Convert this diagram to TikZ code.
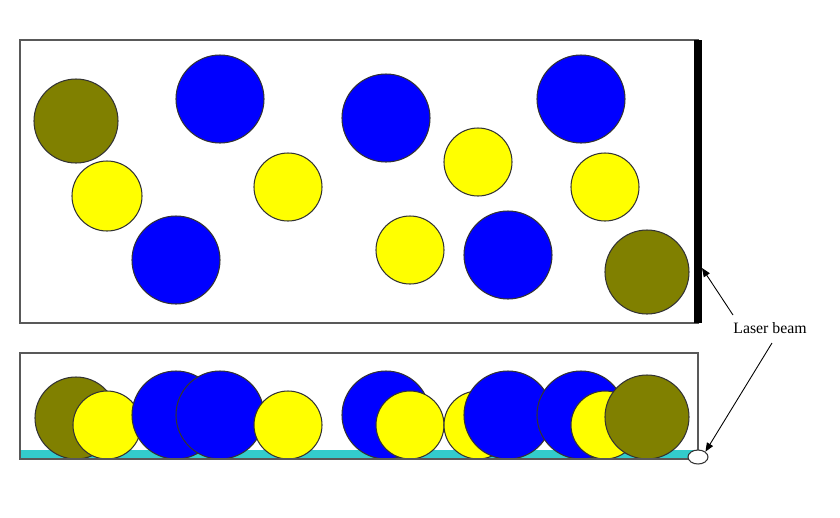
\documentclass[tikz,border=0pt]{standalone}
\usepackage{fontspec}
\setmainfont{Liberation Serif}
\usetikzlibrary{shapes.geometric,arrows.meta}

\definecolor{beadblue}{RGB}{0,0,255}
\definecolor{beadyellow}{RGB}{255,255,0}
\definecolor{beadolive}{RGB}{128,128,0}
\definecolor{floorcyan}{RGB}{51,204,204}

\tikzset{
  bead/.style={draw=black!80,line width=0.6pt},
  frame/.style={draw=black!65,line width=0.8pt},
  pointer/.style={-{Triangle[length=5pt,width=4pt]},line width=0.5pt},
}

\begin{document}
\begin{tikzpicture}[x=0.02cm,y=-0.02cm]
    \useasboundingbox (0,0) rectangle (840,518);

    % top view
    \draw[frame,fill=white] (20,40) rectangle (698,323);
    \fill[black] (694,40) rectangle (702,323);
    \foreach \cx/\cy/\r/\col in {76/121/42/beadolive,107/196/35/beadyellow,
        220/99/44/beadblue,176/260/44/beadblue,288/187/34/beadyellow,
        386/118/44/beadblue,478/162/34/beadyellow,410/250/34/beadyellow,
        508/255/44/beadblue,581/99/44/beadblue,605/187/34/beadyellow,
        647/272/42/beadolive}
        \draw[bead,fill=\col] (\cx,\cy) circle[radius=\r];

    % side view
    \fill[floorcyan] (20,450) rectangle (694,459);
    \foreach \cx/\r/\col in {76/41/beadolive,107/34/beadyellow,176/44/beadblue,
        220/44/beadblue,288/34/beadyellow,386/44/beadblue,410/34/beadyellow,
        478/34/beadyellow,508/44/beadblue,581/44/beadblue,605/34/beadyellow,
        647/42/beadolive}
        \draw[bead,fill=\col] (\cx,{459-\r}) circle[radius=\r];
    \draw[frame] (20,353) rectangle (698,459);
    \node[ellipse,draw=black!80,fill=white,line width=0.6pt,
          minimum width=0.4cm,minimum height=0.28cm,inner sep=0pt] (spot) at (698,457) {};

    % label
    \fill[white] (722,313) rectangle (820,353);
    \node[font=\fontsize{9}{10}\selectfont] (laser) at (770,328) {Laser beam};
    \coordinate (beamA) at (733,315);
    \coordinate (beamB) at (772,343);
    \coordinate (bar) at (702,268);
    \draw[pointer] (beamA) -- (bar);
    \draw[pointer] (beamB) -- (spot.north east);
\end{tikzpicture}
\end{document}
